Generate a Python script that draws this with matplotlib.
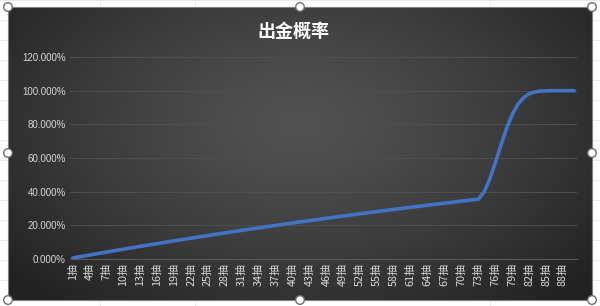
import numpy as np
import matplotlib
matplotlib.use('Agg')
import matplotlib.pyplot as plt
from matplotlib.patches import Circle

plt.rcParams['font.family'] = ['Noto Sans CJK SC', 'DejaVu Sans']

# cumulative probability per pull
pulls = list(range(1, 91))
prob = [0.0060, 0.0120, 0.0179, 0.0238, 0.0296, 0.0355, 0.0413, 0.0470, 0.0527, 0.0584,
        0.0641, 0.0697, 0.0753, 0.0808, 0.0863, 0.0918, 0.0973, 0.1027, 0.1080, 0.1134,
        0.1187, 0.1240, 0.1292, 0.1345, 0.1397, 0.1448, 0.1500, 0.1551, 0.1601, 0.1652,
        0.1702, 0.1752, 0.1801, 0.1850, 0.1899, 0.1948, 0.1996, 0.2044, 0.2092, 0.2139,
        0.2187, 0.2233, 0.2280, 0.2326, 0.2372, 0.2418, 0.2464, 0.2509, 0.2554, 0.2598,
        0.2643, 0.2687, 0.2731, 0.2775, 0.2818, 0.2861, 0.2904, 0.2946, 0.2989, 0.3031,
        0.3073, 0.3114, 0.3156, 0.3197, 0.3237, 0.3278, 0.3318, 0.3358, 0.3398, 0.3438,
        0.3477, 0.3516, 0.3555, 0.3981, 0.4739, 0.5718, 0.6771, 0.7759, 0.8579, 0.9185,
        0.9581, 0.9810, 0.9925, 0.9975, 0.9993, 0.9999, 1.0000, 1.0000, 1.0000, 1.0000]
xlabels = ['%d抽' % p for p in pulls]
yticks = [0, 0.2, 0.4, 0.6, 0.8, 1.0, 1.2]

W, H = 600, 306
fig = plt.figure(figsize=(W / 100, H / 100), dpi=100)
fig.patch.set_facecolor('white')

# excel sheet behind the chart
sheet = fig.add_axes([0, 0, 1, 1])
sheet.set_xlim(0, W)
sheet.set_ylim(H, 0)
sheet.axis('off')
for yy in range(0, H, 20):
    sheet.axhline(yy, color='#e6e6e6', lw=0.6)
for xx in [100, 195, 490]:
    sheet.axvline(xx, color='#e6e6e6', lw=0.6)

# chart area with radial gradient
cx0, cy0, cx1, cy1 = 8, 7, 592, 300
yy, xx = np.mgrid[0:1:200j, 0:1:400j]
r = np.sqrt(((xx - 0.5) / 0.65) ** 2 + ((yy - 0.4) / 0.8) ** 2)
r = np.clip(r, 0, 1) ** 1.3
c0 = np.array([0x52, 0x52, 0x52]) / 255
c1 = np.array([0x22, 0x22, 0x22]) / 255
img = c0[None, None, :] * (1 - r[..., None]) + c1[None, None, :] * r[..., None]
sheet.imshow(img, extent=[cx0, cx1, cy1, cy0], aspect='auto', zorder=2)
sheet.plot([cx0, cx1, cx1, cx0, cx0], [cy0, cy0, cy1, cy1, cy0], color='#7f7f7f', lw=0.8, zorder=3)

# plot area
ax = fig.add_axes([70 / W, 47 / H, 507 / W, 202 / H])
ax.set_facecolor('none')
ax.plot(pulls, prob, color='#4472C4', lw=2.6, solid_capstyle='round', solid_joinstyle='round')
ax.set_xlim(0.5, 90.5)
ax.set_ylim(0, 1.2)
ax.set_yticks(yticks)
ax.set_yticklabels(['%.3f%%' % (v * 100) for v in yticks], family=['Liberation Sans', 'DejaVu Sans'],
                   fontsize=7, color='#d9d9d9')
ax.set_xticks(pulls[::3])
ax.set_xticklabels(xlabels[::3], rotation=90, fontsize=7.8, color='#d9d9d9')
ax.grid(axis='y', color='#505050', lw=0.7)
ax.tick_params(length=0, pad=3)
for s in ['top', 'right', 'left']:
    ax.spines[s].set_visible(False)
ax.spines['bottom'].set_color('#5a5a5a')
ax.spines['bottom'].set_linewidth(0.8)

fig.text(293.5 / W, 1 - 31 / H, '出金概率', ha='center', va='center', color='white',
         fontsize=13, fontweight='bold')

# selection handles
for hx, hy in [(cx0, cy0), (300, cy0), (cx1, cy0), (cx0, 153), (cx1, 153),
               (cx0, cy1), (300, cy1), (cx1, cy1)]:
    sheet.add_patch(Circle((hx, hy), 4.3, facecolor='white', edgecolor='#6e6e6e', lw=1.0, zorder=5))

fig.savefig('out.png', dpi=100)
